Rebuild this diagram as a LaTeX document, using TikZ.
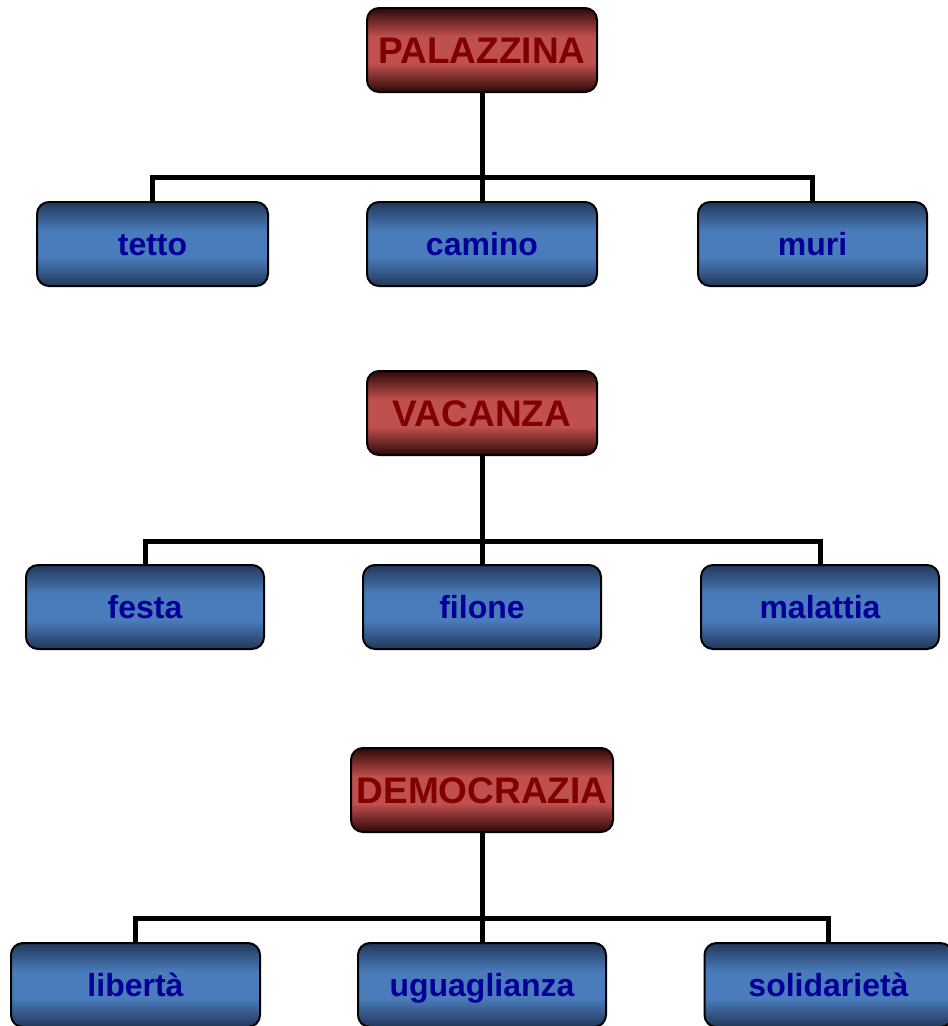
\documentclass[tikz,border=0pt]{standalone}
\usepackage{fontspec}
\setmainfont{Liberation Sans}
\definecolor{reddark}{HTML}{2E0808}
\definecolor{redmid}{HTML}{C0504D}
\definecolor{bluedark}{HTML}{22385A}
\definecolor{bluemid}{HTML}{4A7BBA}
\definecolor{redtext}{HTML}{800000}
\definecolor{bluetext}{HTML}{000099}
\pgfdeclareverticalshading{redshade}{100bp}{color(0bp)=(reddark); color(25bp)=(reddark); color(42bp)=(redmid); color(58bp)=(redmid); color(75bp)=(reddark); color(100bp)=(reddark)}
\pgfdeclareverticalshading{blueshade}{100bp}{color(0bp)=(bluedark); color(25bp)=(bluedark); color(42bp)=(bluemid); color(58bp)=(bluemid); color(75bp)=(bluedark); color(100bp)=(bluedark)}
\tikzset{
  parent/.style={draw=black, line width=2pt, rounded corners=12pt, shading=redshade,
    minimum height=84pt, text height=27pt, text depth=1pt, text=redtext,
    font=\fontsize{37}{40}\selectfont\bfseries},
  child/.style={draw=black, line width=2pt, rounded corners=12pt, shading=blueshade,
    minimum height=84pt, text height=23pt, text depth=1pt, text=bluetext,
    font=\fontsize{32}{36}\selectfont\bfseries},
  link/.style={line width=5pt}
}
\begin{document}
\begin{tikzpicture}[x=1pt,y=-1pt]
    \useasboundingbox (0,0) rectangle (948,1026);
    % palazzina
    \node[parent, minimum width=230pt] (palazzina) at (482,50) {PALAZZINA};
    \node[child, minimum width=231pt] (tetto) at (152.5,244) {tetto};
    \node[child, minimum width=230pt] (camino) at (482,244) {camino};
    \node[child, minimum width=229pt] (muri) at (812.5,244) {muri};
    \coordinate (bar1) at (482,177);
    \draw[link] (palazzina) -- (camino);
    \draw[link] (tetto.north) -- (tetto.north |- bar1) -- (muri.north |- bar1) -- (muri.north);
    % vacanza
    \node[parent, minimum width=230pt] (vacanza) at (482,413) {VACANZA};
    \node[child, minimum width=238pt] (festa) at (145,607) {festa};
    \node[child, minimum width=238pt] (filone) at (482,607) {filone};
    \node[child, minimum width=238pt] (malattia) at (820,607) {malattia};
    \coordinate (bar2) at (482,541);
    \draw[link] (vacanza) -- (filone);
    \draw[link] (festa.north) -- (festa.north |- bar2) -- (malattia.north |- bar2) -- (malattia.north);
    % democrazia
    \node[parent, minimum width=262pt] (democrazia) at (482,790) {DEMOCRAZIA};
    \node[child, minimum width=249pt] (liberta) at (135.5,985) {libertà};
    \node[child, minimum width=248pt] (uguaglianza) at (482,985) {uguaglianza};
    \node[child, minimum width=248pt] (solidarieta) at (828.5,985) {solidarietà};
    \coordinate (bar3) at (482,918);
    \draw[link] (democrazia) -- (uguaglianza);
    \draw[link] (liberta.north) -- (liberta.north |- bar3) -- (solidarieta.north |- bar3) -- (solidarieta.north);
\end{tikzpicture}
\end{document}
